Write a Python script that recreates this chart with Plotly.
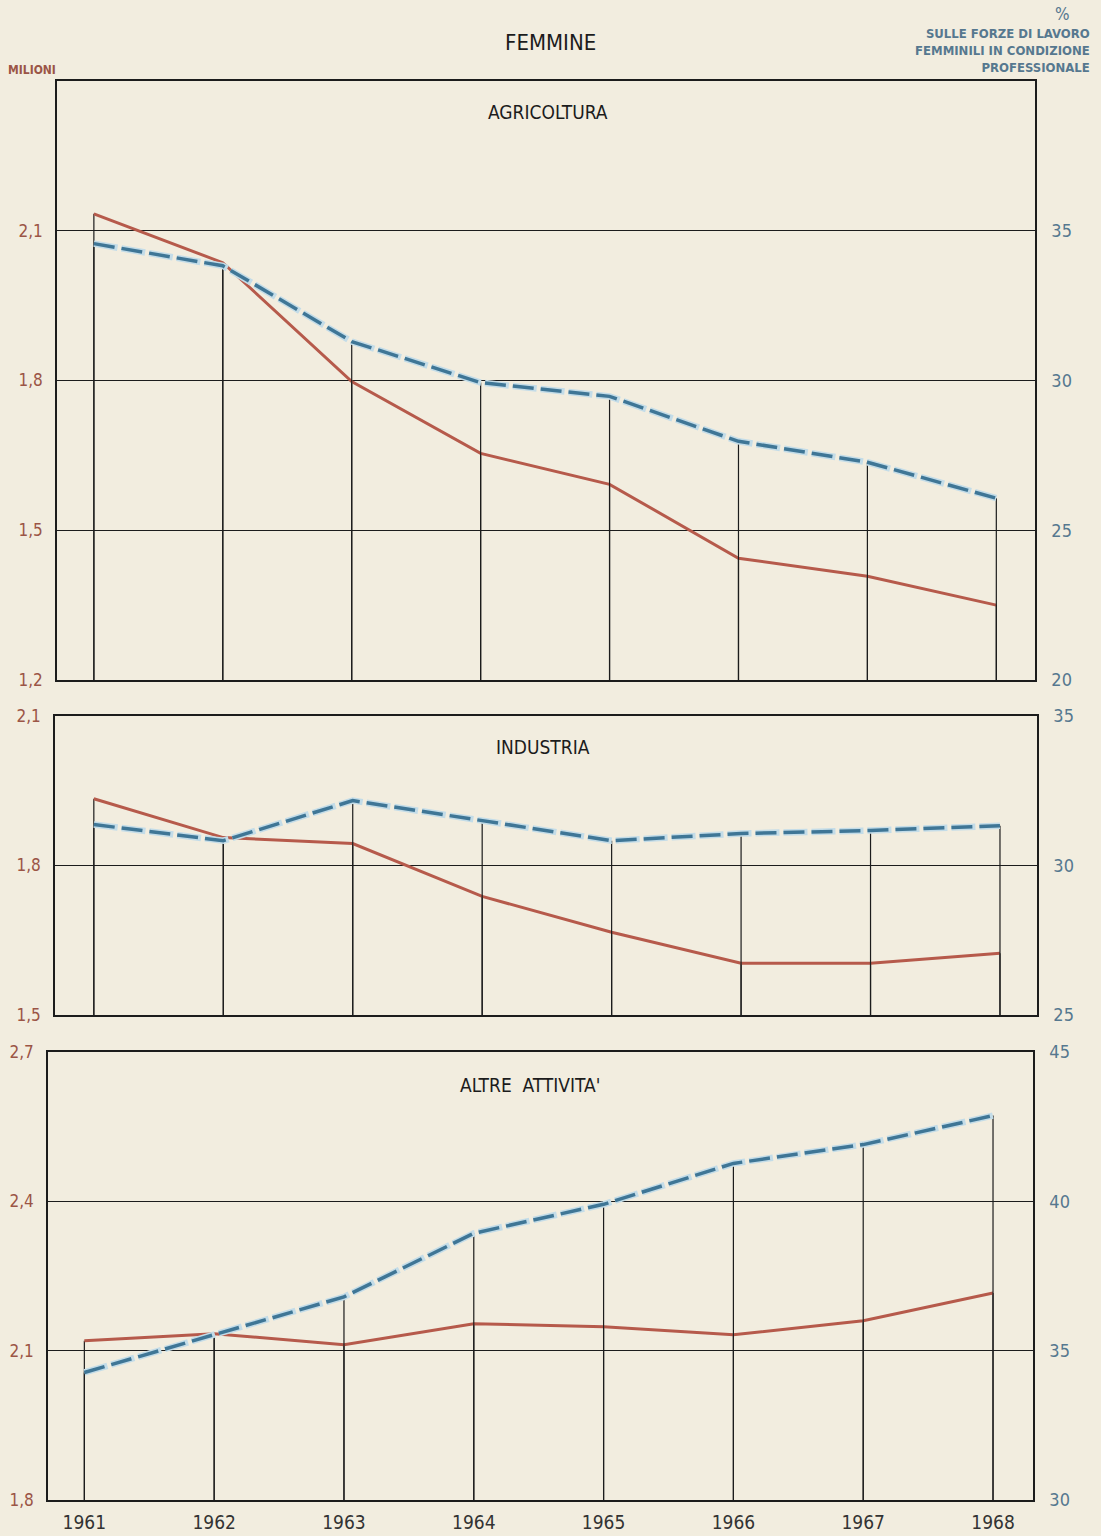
import plotly.graph_objects as go

# ---------------- data ----------------
years = [1961, 1962, 1963, 1964, 1965, 1966, 1967, 1968]
year_labels = ["1961", "1962", "1963", "1964", "1965", "1966", "1967", "1968"]

# Millions (left scale, red solid)
agri_mil = [2.134, 2.036, 1.798, 1.654, 1.592, 1.444, 1.408, 1.350]
ind_mil = [1.934, 1.856, 1.844, 1.738, 1.666, 1.604, 1.604, 1.624]
altre_mil = [2.120, 2.134, 2.112, 2.154, 2.148, 2.132, 2.160, 2.216]

# Percent of female labour force (right scale, blue dashed)
agri_pct = [34.57, 33.83, 31.30, 29.93, 29.47, 27.97, 27.27, 26.07]
ind_pct = [31.37, 30.83, 32.17, 31.50, 30.83, 31.07, 31.17, 31.33]
altre_pct = [34.27, 35.53, 36.80, 38.93, 39.90, 41.27, 41.90, 42.87]

# Tick values / labels
agri_left_ticks = [1.2, 1.5, 1.8, 2.1]
agri_left_text = ["1,2", "1,5", "1,8", "2,1"]
agri_right_ticks = [20, 25, 30, 35]
agri_right_text = ["20", "25", "30", "35"]

ind_left_ticks = [1.5, 1.8, 2.1]
ind_left_text = ["1,5", "1,8", "2,1"]
ind_right_ticks = [25, 30, 35]
ind_right_text = ["25", "30", "35"]

altre_left_ticks = [1.8, 2.1, 2.4, 2.7]
altre_left_text = ["1,8", "2,1", "2,4", "2,7"]
altre_right_ticks = [30, 35, 40, 45]
altre_right_text = ["30", "35", "40", "45"]

panel_titles = ["AGRICOLTURA", "INDUSTRIA", "ALTRE  ATTIVITA'"]

# ---------------- styles ----------------
BG = "#f2eddf"
RED = "#b65a4b"
BLUE = "#3f7696"
HALO = "#c3dce8"
LEFT_LBL = "#9b5546"
RIGHT_LBL = "#56788f"
INK = "#1c1c1c"
FONT = "Liberation Sans Narrow, DejaVu Sans Condensed, Roboto Condensed, Roboto, sans-serif"

W, H = 1101, 1536

def px_x(p):
    return p / W

def px_y(p):
    return 1 - p / H

panels = [
    dict(mil=agri_mil, pct=agri_pct, lt=agri_left_ticks, ltx=agri_left_text,
         rt=agri_right_ticks, rtx=agri_right_text,
         lrange=[1.2, 2.4], rrange=[20, 40],
         xdom=[px_x(57), px_x(1035)], ydom=[px_y(680), px_y(81)],
         xrange=[1960.714, 1968.30]),
    dict(mil=ind_mil, pct=ind_pct, lt=ind_left_ticks, ltx=ind_left_text,
         rt=ind_right_ticks, rtx=ind_right_text,
         lrange=[1.5, 2.1], rrange=[25, 35],
         xdom=[px_x(55), px_x(1037)], ydom=[px_y(1015), px_y(716)],
         xrange=[1960.70, 1968.286]),
    dict(mil=altre_mil, pct=altre_pct, lt=altre_left_ticks, ltx=altre_left_text,
         rt=altre_right_ticks, rtx=altre_right_text,
         lrange=[1.8, 2.7], rrange=[30, 45],
         xdom=[px_x(48), px_x(1033)], ydom=[px_y(1500), px_y(1052)],
         xrange=[1960.72, 1968.308]),
]

fig = go.Figure()
layout = {}

for i, p in enumerate(panels):
    xn = "x" if i == 0 else f"x{i+1}"
    yl = "y" if i == 0 else f"y{2*i+1}"
    yr = f"y{2*i+2}"
    xkey = "xaxis" if i == 0 else f"xaxis{i+1}"
    ylkey = "yaxis" if i == 0 else f"yaxis{2*i+1}"
    yrkey = f"yaxis{2*i+2}"

    # drop lines from the bottom to each series' value (left and right scales)
    dx, dyl, dyr = [], [], []
    for yv, m, c in zip(years, p["mil"], p["pct"]):
        dx += [yv, yv, None]
        dyl += [p["lrange"][0], m, None]
        dyr += [p["rrange"][0], c, None]
    fig.add_trace(go.Scatter(x=dx, y=dyl, xaxis=xn, yaxis=yl, mode="lines",
                             line=dict(color=INK, width=1.2), hoverinfo="skip",
                             showlegend=False))
    fig.add_trace(go.Scatter(x=dx, y=dyr, xaxis=xn, yaxis=yr, mode="lines",
                             line=dict(color=INK, width=1.2), hoverinfo="skip",
                             showlegend=False))

    # percentage (blue dashed) with light halo
    fig.add_trace(go.Scatter(x=years, y=p["pct"], xaxis=xn, yaxis=yr, mode="lines",
                             line=dict(color=HALO, width=6.5, dash="24px,4px"),
                             hoverinfo="skip", showlegend=False))
    fig.add_trace(go.Scatter(x=years, y=p["pct"], xaxis=xn, yaxis=yr, mode="lines",
                             line=dict(color=BLUE, width=3.5, dash="21px,7px"),
                             name="% forze di lavoro", showlegend=False))
    # millions (red solid)
    fig.add_trace(go.Scatter(x=years, y=p["mil"], xaxis=xn, yaxis=yl, mode="lines",
                             line=dict(color=RED, width=3),
                             name="milioni", showlegend=False))

    layout[xkey] = dict(domain=p["xdom"], range=p["xrange"], anchor=yl,
                        automargin=False,
                        showgrid=False, zeroline=False,
                        showline=True, mirror=True, linecolor=INK, linewidth=1.5,
                        tickmode="array", tickvals=years,
                        ticktext=year_labels if i == 2 else [""] * len(years),
                        showticklabels=(i == 2), ticks="", ticklabelstandoff=4,
                        tickfont=dict(family=FONT, size=19, color="#333333"))
    layout[ylkey] = dict(domain=p["ydom"], range=p["lrange"], anchor=xn,
                         automargin=False,
                         tickmode="array", tickvals=p["lt"], ticktext=p["ltx"],
                         showgrid=True, gridcolor=INK, gridwidth=1.3,
                         zeroline=False, showline=True, linecolor=INK, linewidth=1.5,
                         ticks="", ticklabelstandoff=9,
                         tickfont=dict(family=FONT, size=17, color=LEFT_LBL))
    layout[yrkey] = dict(domain=p["ydom"], range=p["rrange"], anchor=xn,
                         automargin=False,
                         overlaying=yl, side="right",
                         tickmode="array", tickvals=p["rt"], ticktext=p["rtx"],
                         showgrid=False, zeroline=False,
                         showline=True, linecolor=INK, linewidth=1.5,
                         ticks="", ticklabelstandoff=11,
                         tickfont=dict(family=FONT, size=18, color=RIGHT_LBL))

annotations = [
    dict(text="FEMMINE", x=px_x(550), y=px_y(42), xref="paper", yref="paper",
         showarrow=False, font=dict(family=FONT, size=22, color=INK),
         xanchor="center", yanchor="middle"),
    dict(text="<b>MILIONI</b>", x=px_x(6), y=px_y(70), xref="paper", yref="paper",
         showarrow=False, font=dict(family=FONT, size=12, color=LEFT_LBL),
         xanchor="left", yanchor="middle"),
    dict(text="%", x=px_x(1062), y=px_y(14), xref="paper", yref="paper",
         showarrow=False, font=dict(family=FONT, size=17, color=RIGHT_LBL),
         xanchor="center", yanchor="middle"),
    dict(text="<b>SULLE FORZE DI LAVORO<br>FEMMINILI IN CONDIZIONE<br>PROFESSIONALE</b>",
         x=px_x(1092), y=px_y(50), xref="paper", yref="paper", align="right",
         showarrow=False, font=dict(family=FONT, size=13, color=RIGHT_LBL),
         xanchor="right", yanchor="middle"),
]
title_pos = [(548, 112), (543, 747), (530, 1085)]
for t, (tx, ty) in zip(panel_titles, title_pos):
    annotations.append(dict(text=t, x=px_x(tx), y=px_y(ty), xref="paper", yref="paper",
                            showarrow=False, font=dict(family=FONT, size=19, color=INK),
                            xanchor="center", yanchor="middle"))

fig.update_layout(
    width=W, height=H,
    margin=dict(l=0, r=0, t=0, b=0, autoexpand=False),
    paper_bgcolor=BG, plot_bgcolor=BG,
    showlegend=False,
    annotations=annotations,
    **layout,
)

fig.write_html(
    "out.html",
    config={"displayModeBar": False},
    post_script="document.body.style.margin='0';document.body.style.padding='0';"
                "document.body.style.background='" + BG + "';"
                "document.documentElement.style.overflow='hidden';",
)
